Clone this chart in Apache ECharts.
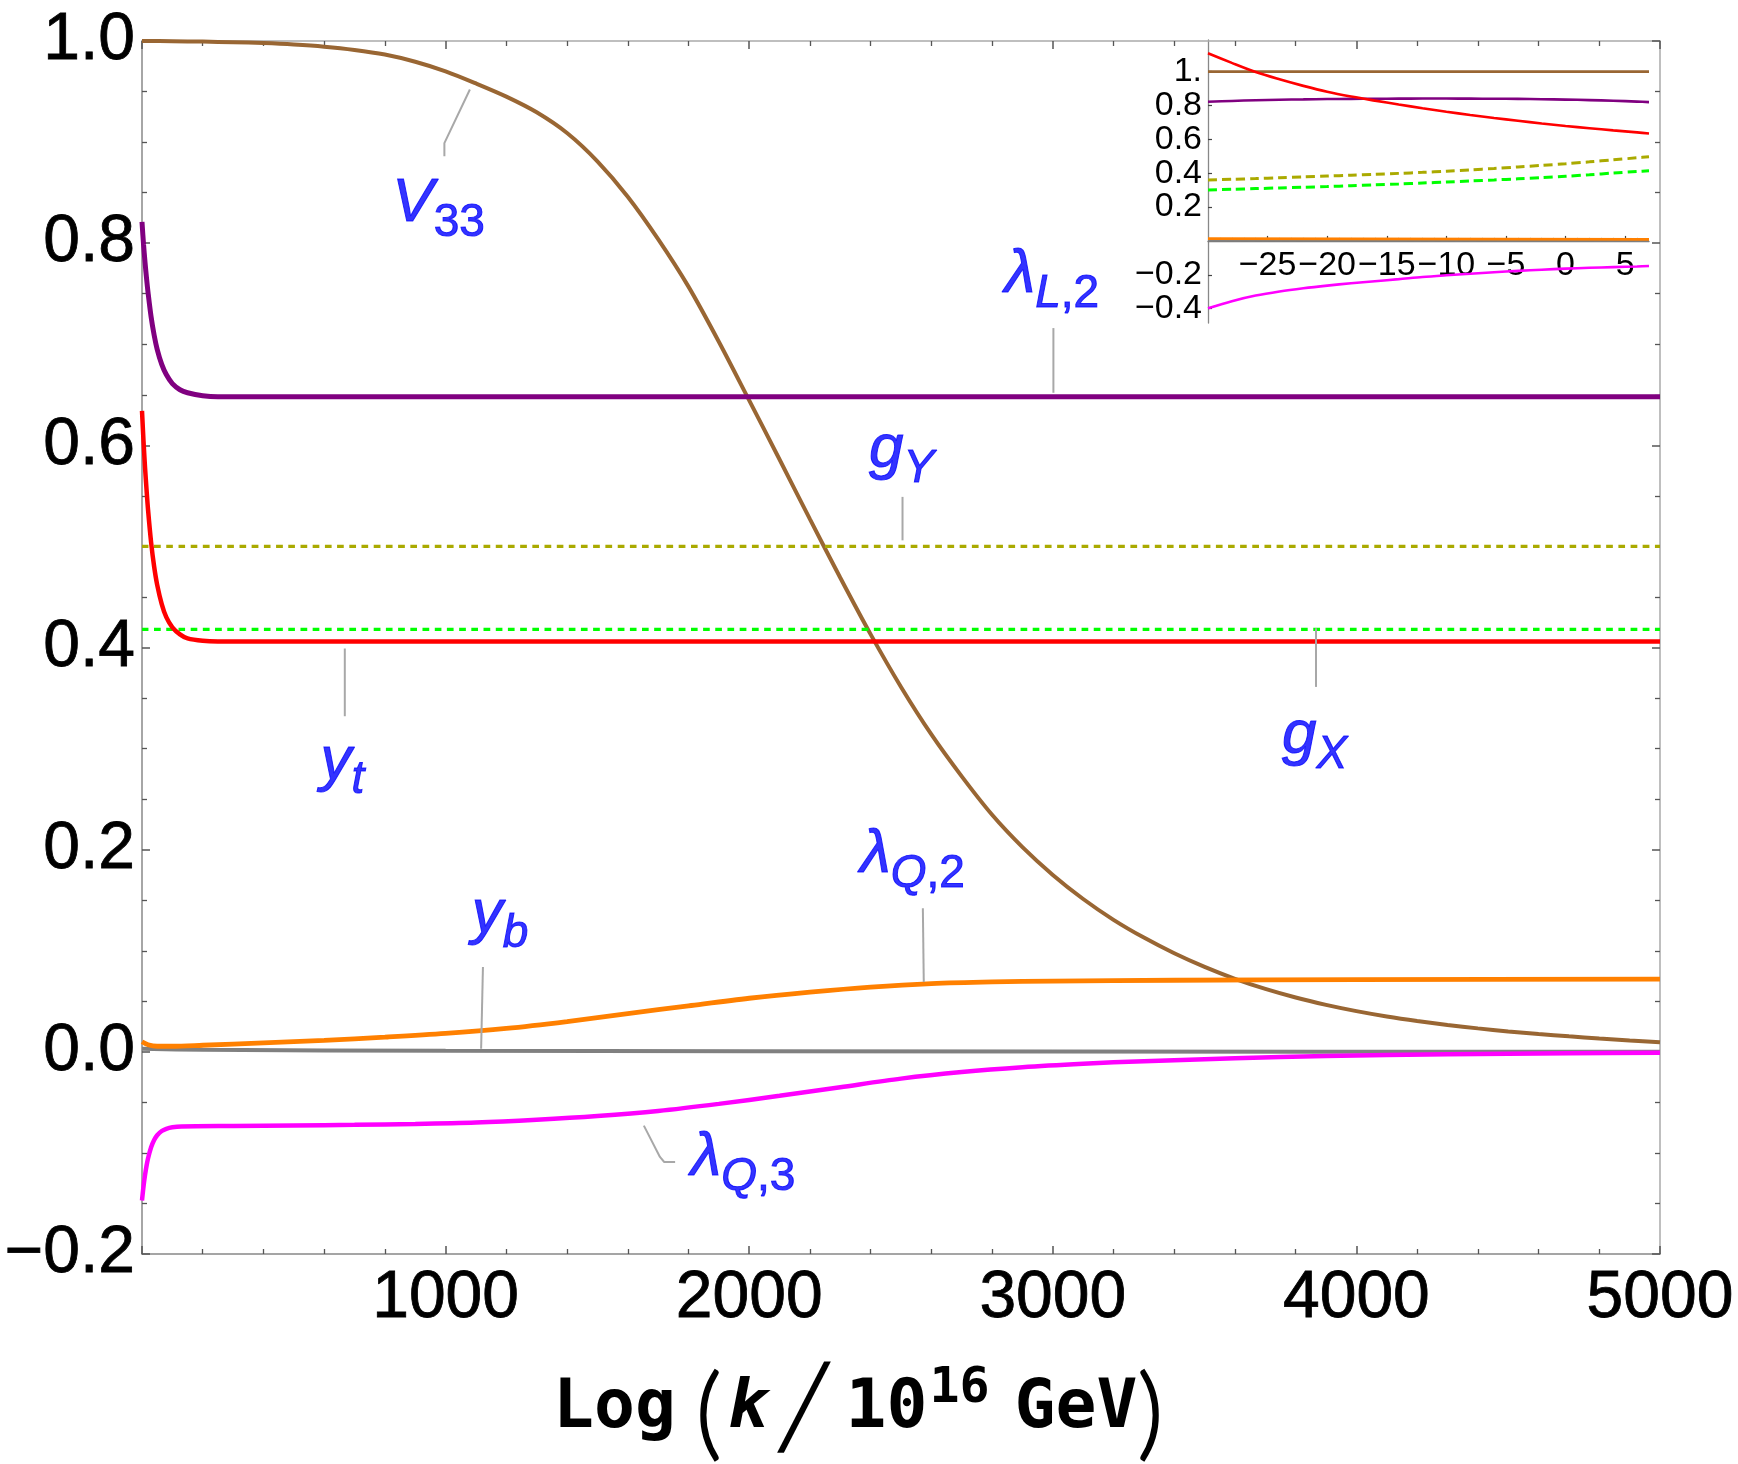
<!DOCTYPE html>
<html>
<head>
<meta charset="utf-8">
<style>
  html, body { margin: 0; padding: 0; background: #fff; }
  #main { width: 1738px; height: 1464px; }
</style>
<script src="https://cdn.jsdelivr.net/npm/echarts@6/dist/echarts.min.js"></script>
</head>
<body>
<div id="main"></div>
<script>
// main plot curves, x = Log(k / 10^16 GeV)
var v33X = [0, 100, 200, 300, 400, 500, 600, 700, 800, 900, 1000, 1100, 1200, 1300, 1400, 1500, 1600, 1700, 1800, 1900, 2000, 2100, 2200, 2300, 2400, 2500, 2600, 2700, 2800, 2900, 3000, 3100, 3200, 3300, 3400, 3500, 3600, 3700, 3800, 3900, 4000, 4100, 4200, 4300, 4400, 4500, 4600, 4700, 4800, 4900, 5000]
var v33Y = [1.0, 0.9998, 0.9994, 0.9988, 0.9979, 0.9965, 0.9944, 0.9912, 0.9866, 0.9795, 0.970, 0.958, 0.945, 0.9295, 0.909, 0.881, 0.846, 0.804, 0.757, 0.7025, 0.6445, 0.586, 0.527, 0.469, 0.413, 0.361, 0.314, 0.2725, 0.2345, 0.2025, 0.175, 0.1512, 0.1306, 0.113, 0.0975, 0.084, 0.0722, 0.0622, 0.0537, 0.0465, 0.0403, 0.035, 0.0305, 0.0266, 0.0232, 0.0202, 0.0176, 0.0153, 0.0132, 0.0113, 0.0096]

var lamL2X = [0, 5, 10, 15, 20, 30, 40, 50, 65, 80, 100, 125, 150, 200, 250, 5000]
var lamL2Y = [0.821, 0.799, 0.781, 0.765, 0.751, 0.727, 0.709, 0.695, 0.68, 0.67, 0.661, 0.655, 0.652, 0.649, 0.648, 0.648]

var ytX = [0, 5, 10, 15, 20, 30, 40, 50, 65, 80, 100, 125, 150, 200, 250, 5000]
var ytY = [0.634, 0.604, 0.578, 0.556, 0.536, 0.504, 0.48, 0.462, 0.443, 0.43, 0.42, 0.413, 0.409, 0.4066, 0.406, 0.406]

var gYX = [0, 5000]
var gYY = [0.5, 0.5]
var gXX = [0, 5000]
var gXY = [0.418, 0.418]

var ybX = [0, 200, 1000, 3000, 5000]
var ybY = [0.003, 0.002, 0.001, 0.0003, 0.0001]

var lamQ2X = [0, 20, 50, 100, 200, 400, 600, 800, 1000, 1200, 1400, 1600, 1800, 2000, 2200, 2400, 2600, 2800, 3000, 3400, 4000, 5000]
var lamQ2Y = [0.01, 0.007, 0.0055, 0.0055, 0.0065, 0.0088, 0.0113, 0.0145, 0.0182, 0.0232, 0.03, 0.0378, 0.0455, 0.053, 0.059, 0.064, 0.0675, 0.0692, 0.07, 0.0708, 0.0714, 0.072]

var lamQ3X = [0, 5, 10, 15, 20, 30, 40, 50, 65, 80, 100, 130, 300, 500, 700, 900, 1100, 1300, 1500, 1700, 1900, 2100, 2300, 2500, 2700, 2900, 3100, 3300, 3600, 3900, 4300, 4700, 5000]
var lamQ3Y = [-0.147, -0.1331, -0.1218, -0.1127, -0.1052, -0.0944, -0.0872, -0.0825, -0.0783, -0.0761, -0.0746, -0.0738, -0.0733, -0.0728, -0.0722, -0.0714, -0.07, -0.0672, -0.0635, -0.0585, -0.0515, -0.0435, -0.035, -0.0265, -0.02, -0.0152, -0.0118, -0.0092, -0.0064, -0.0042, -0.0025, -0.0015, -0.001]

// inset curves
var insetX = [-30, -28, -26, -24, -22, -20, -18, -16, -14, -12, -10, -8, -6, -4, -2, 0, 2, 4, 6, 7]
var insetYt = [1.109, 1.052, 0.998, 0.955, 0.916, 0.881, 0.853, 0.829, 0.806, 0.784, 0.763, 0.744, 0.726, 0.71, 0.694, 0.679, 0.666, 0.653, 0.641, 0.635]
var insetLamL2 = [0.822, 0.827, 0.831, 0.834, 0.836, 0.838, 0.839, 0.84, 0.8405, 0.841, 0.841, 0.8405, 0.84, 0.839, 0.837, 0.835, 0.832, 0.828, 0.823, 0.82]
var insetGY = [0.36, 0.364, 0.368, 0.373, 0.378, 0.383, 0.388, 0.393, 0.399, 0.405, 0.412, 0.42, 0.428, 0.437, 0.446, 0.456, 0.467, 0.479, 0.491, 0.497]
var insetGX = [0.301, 0.305, 0.309, 0.313, 0.317, 0.321, 0.326, 0.331, 0.336, 0.342, 0.348, 0.354, 0.36, 0.367, 0.374, 0.382, 0.391, 0.401, 0.41, 0.414]
var insetLamQ3 = [-0.398, -0.356, -0.323, -0.299, -0.28, -0.264, -0.25, -0.238, -0.226, -0.213, -0.203, -0.194, -0.185, -0.177, -0.17, -0.164, -0.159, -0.155, -0.151, -0.148]
var insetEndX = [-30, 7]
var insetV33 = [1.0, 1.0]
var insetLamQ2 = [0.013, 0.009]
var insetYb = [0.004, 0.003]

// tick labels
var mainXLabels = [1000, 2000, 3000, 4000, 5000]
var insetXTicks = [-25, -20, -15, -10, -5, 0, 5]
var insetYTicks = [-0.4, -0.2, 0.2, 0.4, 0.6, 0.8, 1.0]
var insetYMin = -0.485
var insetYMax = 1.187

// callout labels (data coords of label centre) and their leader lines
var labelX = [977, 2997, 2502, 660, 3862, 2538, 1179, 1980]
var labelY = [0.8333, 0.7631, 0.5899, 0.282, 0.307, 0.1893, 0.1302, -0.1105]
var labelText = ['{m|V}{n|33}', '{m|λ}{s|L}{n|,2}', '{m|g}{s|Y}', '{m|y}{s|t}', '{m|g}{s|X}', '{m|λ}{s|Q}{n|,2}', '{m|y}{s|b}', '{m|λ}{s|Q}{n|,3}']
var leaders = [
  [[996, 0.886], [996, 0.899], [1080, 0.952]],
  [[3002, 0.716], [3002, 0.652]],
  [[2505, 0.549], [2505, 0.506]],
  [[668, 0.399], [668, 0.332]],
  [[3867, 0.419], [3867, 0.361]],
  [[2572, 0.142], [2575, 0.069]],
  [[1123, 0.084], [1117, 0.003]],
  [[1653, -0.073], [1706, -0.104], [1720, -0.109], [1756, -0.109]]
]

function pairs(xs, ys) {
  return xs.map(function (x, i) { return [x, ys[i]] })
}

function minus(v) {
  return v < 0 ? '\u2212' + String(Math.abs(v)) : String(v)
}

function curve(xs, ys, color, width, dashed, inset) {
  return {
    type: 'line',
    xAxisIndex: inset ? 2 : 0,
    yAxisIndex: inset ? 2 : 0,
    data: pairs(xs, ys),
    showSymbol: false,
    symbol: 'none',
    smooth: 0.3,
    silent: true,
    lineStyle: {
      color: color,
      width: width,
      type: dashed ? (inset ? [9, 5] : [6.7, 5.5]) : 'solid',
      cap: 'butt'
    },
    z: 3
  }
}

var frameTick = { inside: true, length: 8, lineStyle: { color: '#555', width: 1.5 } }
var frameMinor = { show: true, length: 5, lineStyle: { color: '#555', width: 1.3 } }
var tickFont = { fontFamily: 'Liberation Sans', fontSize: 66, color: '#000', textBorderColor: '#000', textBorderWidth: 0.8 }
var insetFont = { fontFamily: 'Liberation Sans', fontSize: 34, color: '#000' }

var chart = echarts.init(document.getElementById('main'))

var series = [
  curve(v33X, v33Y, '#996633', 4, false, 0),
  curve(lamL2X, lamL2Y, '#800080', 5, false, 0),
  curve(gYX, gYY, '#aaaa00', 3.3, true, 0),
  curve(gXX, gXY, '#00ff00', 3.3, true, 0),
  curve(ytX, ytY, '#ff0000', 4.5, false, 0),
  curve(ybX, ybY, '#808080', 4, false, 0),
  curve(lamQ2X, lamQ2Y, '#ff8000', 4.8, false, 0),
  curve(lamQ3X, lamQ3Y, '#ff00ff', 4.5, false, 0),
  curve(insetEndX, insetV33, '#996633', 2.6, false, 1),
  curve(insetX, insetLamL2, '#800080', 2.6, false, 1),
  curve(insetX, insetGY, '#aaaa00', 3, true, 1),
  curve(insetX, insetGX, '#00ff00', 3, true, 1),
  curve(insetX, insetYt, '#ff0000', 2.6, false, 1),
  curve(insetEndX, insetYb, '#808080', 2.6, false, 1),
  curve(insetEndX, insetLamQ2, '#ff8000', 2.8, false, 1),
  curve(insetX, insetLamQ3, '#ff00ff', 2.6, false, 1)
]

leaders.forEach(function (pts) {
  series.push({
    type: 'line',
    xAxisIndex: 0,
    yAxisIndex: 0,
    data: pts,
    showSymbol: false,
    symbol: 'none',
    silent: true,
    lineStyle: { color: '#a8a8a8', width: 2 },
    z: 4
  })
})

var blue = '#0000ff'
function labelStyle(size, italic, top) {
  return {
    fontFamily: 'Liberation Sans', fontStyle: italic ? 'italic' : 'normal', fontSize: size,
    color: blue, textBorderColor: blue, textBorderWidth: 1,
    verticalAlign: 'top', padding: [top, 0, 0, 0]
  }
}
series.push({
  type: 'scatter',
  xAxisIndex: 0,
  yAxisIndex: 0,
  data: pairs(labelX, labelY),
  symbolSize: 1,
  silent: true,
  itemStyle: { color: 'rgba(0,0,0,0)' },
  label: {
    show: true,
    position: 'inside',
    formatter: function (p) { return labelText[p.dataIndex] },
    rich: {
      m: labelStyle(62, true, 0),
      s: labelStyle(46, true, 27),
      n: labelStyle(46, false, 27)
    }
  },
  z: 6
})

// the inset's x axis sits on its y = 0 line
var insetGridH = 283
var insetXOffset = -(0 - insetYMin) / (insetYMax - insetYMin) * insetGridH

var mono = 'DejaVu Sans Mono'
var delim = 'Lato, "Noto Sans", "Liberation Sans"'
function titleStyle(font, size, top, left, extra) {
  return Object.assign({
    fontFamily: font, fontWeight: 'bold', fontSize: size, color: '#000',
    verticalAlign: 'top', padding: [top, 0, 0, left]
  }, extra || {})
}
var parenExtra = { fontWeight: 300, textBorderColor: '#000', textBorderWidth: 2 }
var option = {
  animation: false,
  backgroundColor: '#fff',
  title: {
    left: 553,
    top: 1329,
    padding: 0,
    text: '{a|Log}{p|(}{k|k}{sl|\u2571}{b|10}{sup|16}{g|GeV}{q|)}',
    textStyle: {
      rich: {
        a: titleStyle(mono, 68, 46, 0),
        p: titleStyle(delim, 100, 36, 20, parenExtra),
        k: titleStyle(mono, 68, 46, 6, { fontStyle: 'italic' }),
        sl: titleStyle(mono, 78, 46, 12, { fontWeight: 'normal' }),
        b: titleStyle(mono, 68, 46, 18),
        sup: titleStyle(mono, 50, 35, 2),
        g: titleStyle(mono, 68, 46, 25),
        q: titleStyle(delim, 100, 36, 0, parenExtra)
      }
    }
  },
  grid: [
    { left: 142, right: 78, top: 41, bottom: 210, outerBoundsMode: 'none' },
    { left: 1208, width: 441, top: 40, height: insetGridH, outerBoundsMode: 'none' }
  ],
  xAxis: [
    {
      gridIndex: 0, type: 'value', position: 'bottom', min: 0, max: 5000, interval: 1000,
      axisLine: { onZero: false, lineStyle: { color: '#888', width: 1.5 } },
      axisTick: frameTick,
      minorTick: Object.assign({ splitNumber: 5 }, frameMinor),
      splitLine: { show: false },
      axisLabel: Object.assign({ margin: 12, customValues: mainXLabels, formatter: function (v) { return String(v) } }, tickFont)
    },
    {
      gridIndex: 0, type: 'value', position: 'top', min: 0, max: 5000, interval: 1000,
      axisLine: { onZero: false, lineStyle: { color: '#aaa', width: 1.5 } },
      axisTick: frameTick,
      minorTick: Object.assign({ splitNumber: 5 }, frameMinor),
      splitLine: { show: false },
      axisLabel: { show: false }
    },
    {
      gridIndex: 1, type: 'value', position: 'bottom', offset: insetXOffset, min: -30, max: 7, interval: 5,
      axisLine: { onZero: false, lineStyle: { color: '#777', width: 1.3 } },
      axisTick: { inside: true, length: 5, customValues: insetXTicks, lineStyle: { color: '#444', width: 1.2 } },
      minorTick: { show: true, splitNumber: 5, length: 3, lineStyle: { color: '#444', width: 1 } },
      splitLine: { show: false },
      axisLabel: Object.assign({ margin: 8, customValues: insetXTicks, formatter: minus }, insetFont)
    }
  ],
  yAxis: [
    {
      gridIndex: 0, type: 'value', position: 'left', min: -0.2, max: 1.0, interval: 0.2,
      axisLine: { show: true, onZero: false, lineStyle: { color: '#888', width: 1.5 } },
      axisTick: frameTick,
      minorTick: Object.assign({ splitNumber: 4 }, frameMinor),
      splitLine: { show: false },
      axisLabel: Object.assign({
        margin: 7,
        formatter: function (v) { return (v < -1e-9 ? '\u2212' : '') + Math.abs(v).toFixed(1) }
      }, tickFont)
    },
    {
      gridIndex: 0, type: 'value', position: 'right', min: -0.2, max: 1.0, interval: 0.2,
      axisLine: { show: true, onZero: false, lineStyle: { color: '#aaa', width: 1.5 } },
      axisTick: frameTick,
      minorTick: Object.assign({ splitNumber: 4 }, frameMinor),
      splitLine: { show: false },
      axisLabel: { show: false }
    },
    {
      gridIndex: 1, type: 'value', position: 'left', min: insetYMin, max: insetYMax,
      axisLine: { show: true, onZero: false, lineStyle: { color: '#888', width: 1.3 } },
      axisTick: { inside: true, length: 4, customValues: insetYTicks, lineStyle: { color: '#444', width: 1.2 } },
      splitLine: { show: false },
      axisLabel: Object.assign({
        margin: 6, customValues: insetYTicks,
        formatter: function (v) { return v === 1 ? '1.' : (v < 0 ? '\u2212' : '') + Math.abs(v).toFixed(1) }
      }, insetFont)
    }
  ],
  series: series
}

chart.setOption(option)
</script>
</body>
</html>
